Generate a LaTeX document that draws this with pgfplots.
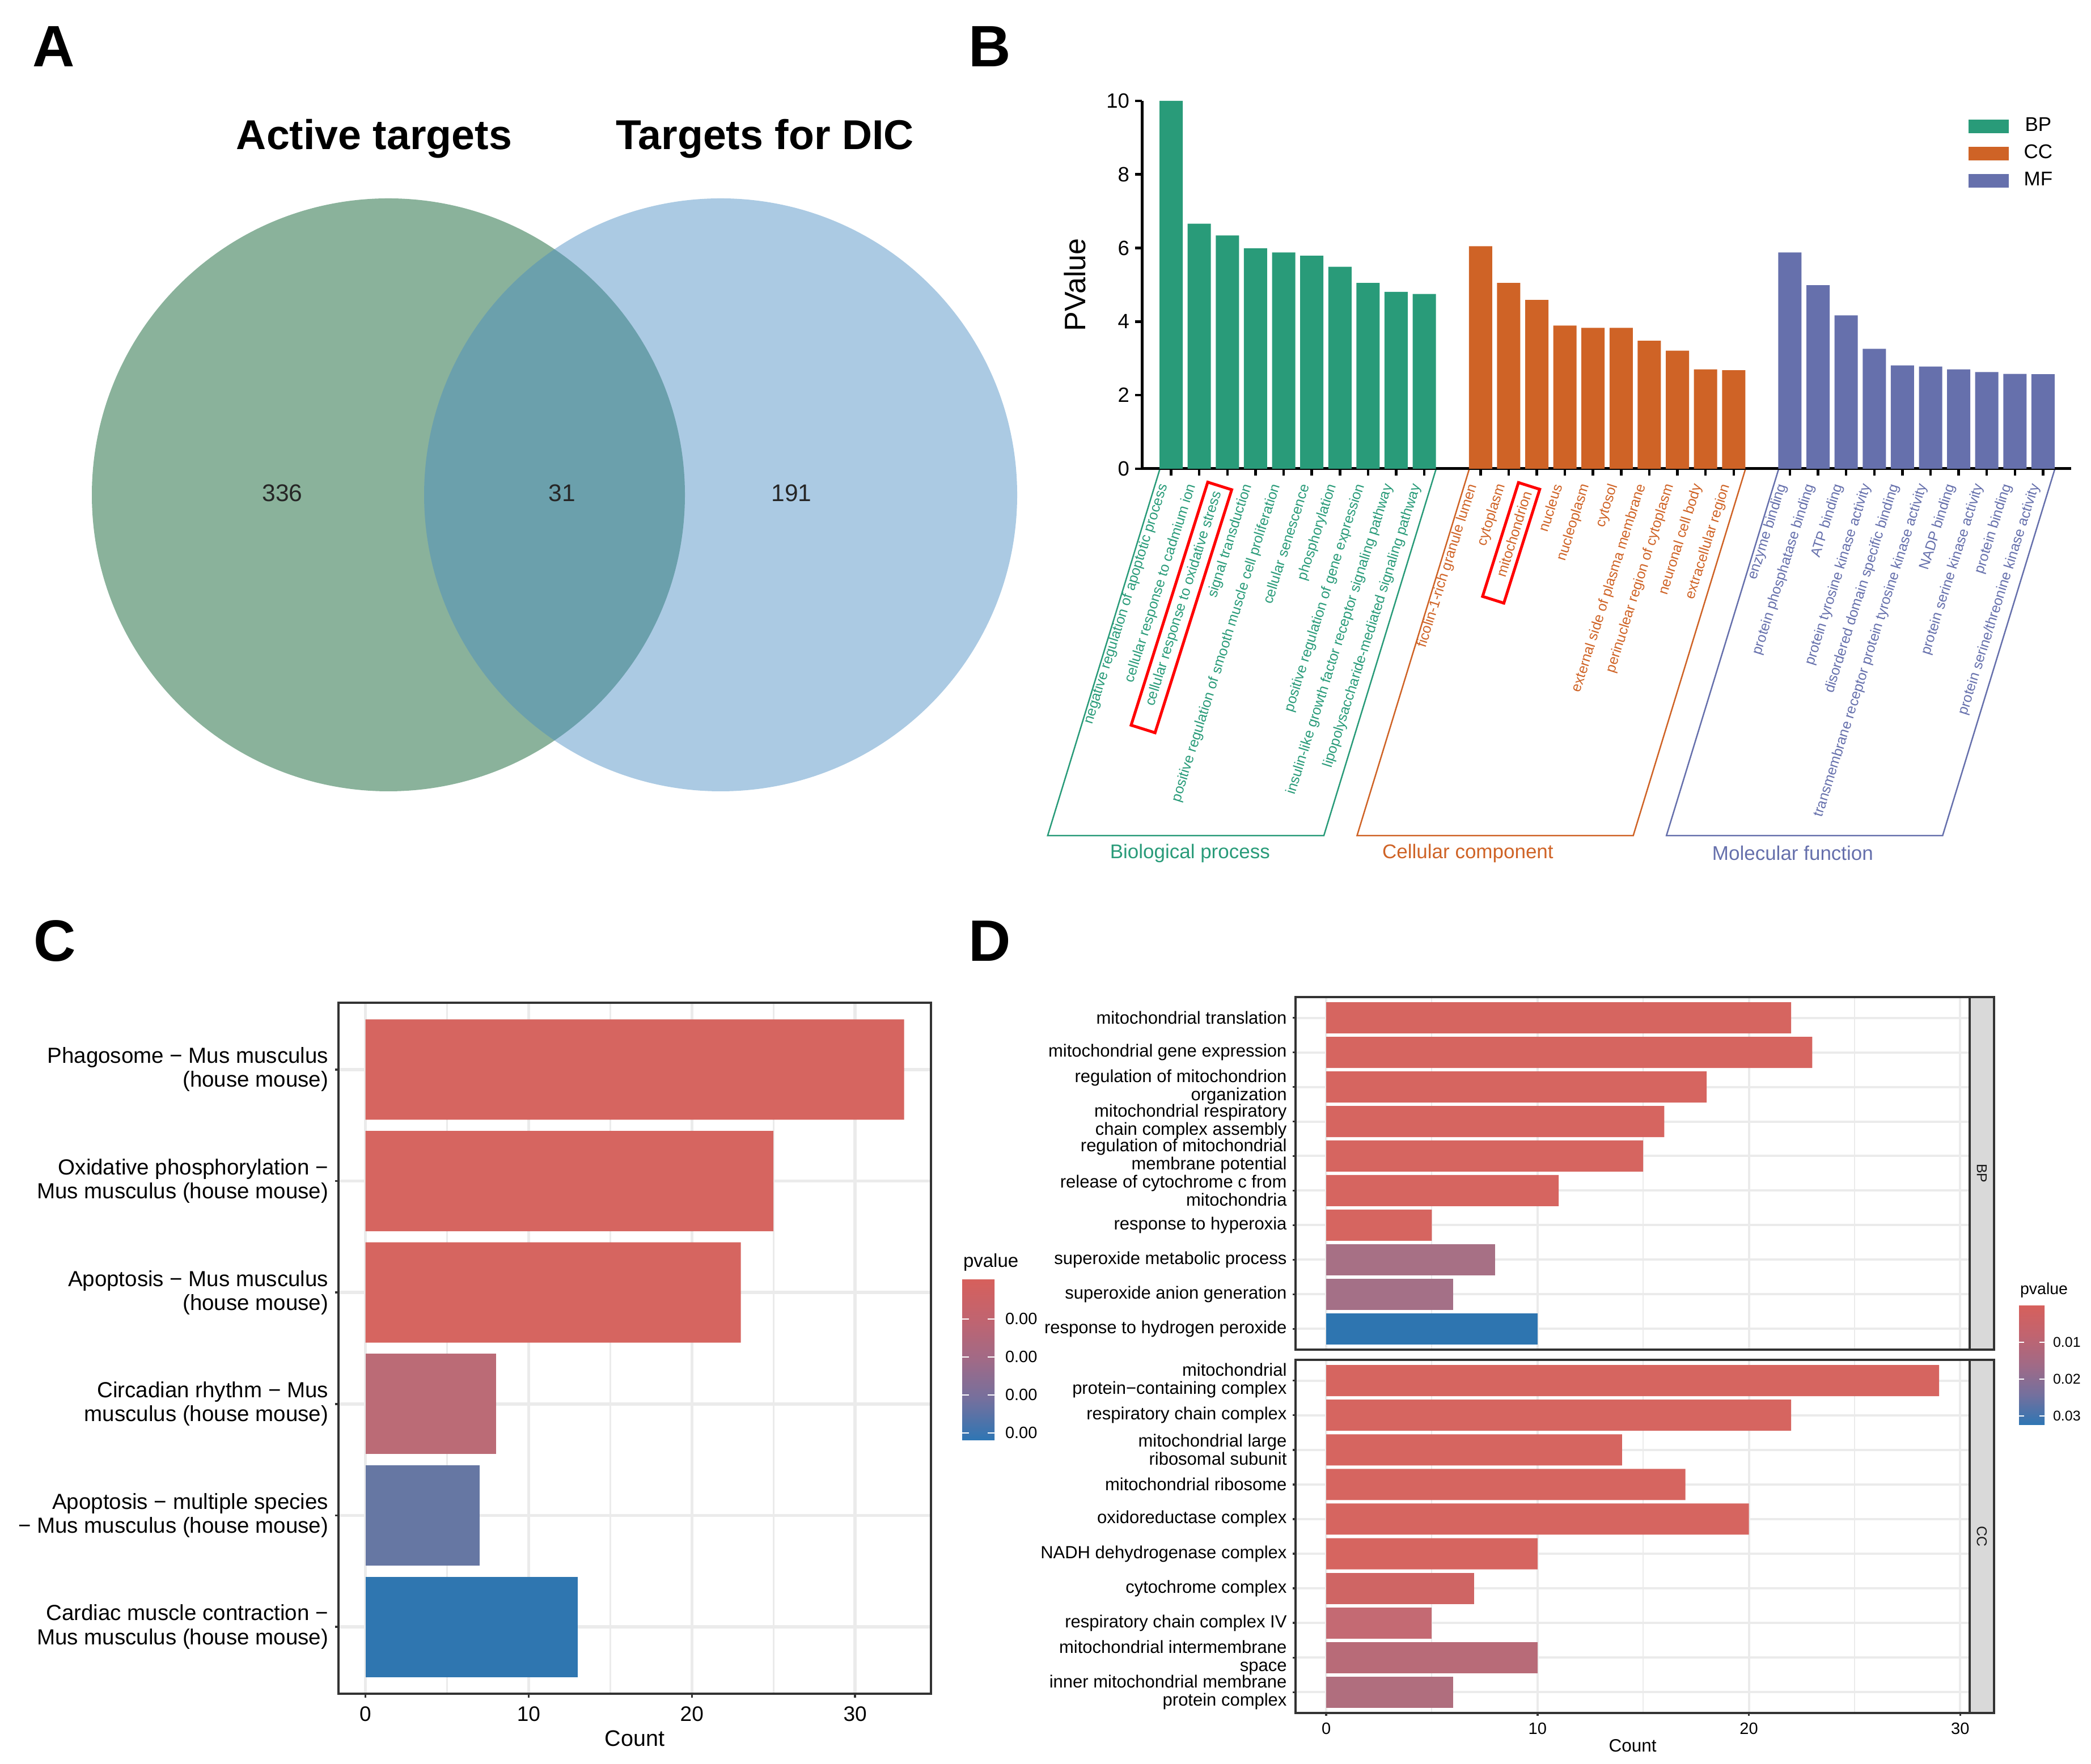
\documentclass[border=0pt]{standalone}
\usepackage{fontspec}
\setmainfont{Liberation Sans}
\usepackage{pgfplots}
\pgfplotsset{compat=1.18}
\pgfplotsset{/pgf/number format/assume math mode=true}

\definecolor{bpc}{RGB}{41,155,121}
\definecolor{ccc}{RGB}{207,99,38}
\definecolor{mfc}{RGB}{102,112,172}
\definecolor{vgreen}{RGB}{138,178,155}
\definecolor{vblueb}{RGB}{72,140,194}
\definecolor{gridc}{RGB}{235,235,235}
\definecolor{dgrey}{RGB}{51,51,51}
\definecolor{stripc}{RGB}{217,217,217}
\definecolor{r1}{RGB}{214,101,96}
\definecolor{c4}{RGB}{187,107,118}
\definecolor{c5}{RGB}{102,119,163}
\definecolor{c6}{RGB}{47,118,176}
\definecolor{bp8}{RGB}{167,112,133}
\definecolor{bp9}{RGB}{164,112,135}
\definecolor{bp10}{RGB}{46,117,176}
\definecolor{cc7}{RGB}{207,101,100}
\definecolor{cc8}{RGB}{196,106,115}
\definecolor{cc9}{RGB}{184,107,120}
\definecolor{cc10}{RGB}{176,110,126}
\definecolor{pr}{RGB}{214,96,92}
\definecolor{pq1}{RGB}{192,100,112}
\definecolor{pq2}{RGB}{160,106,135}
\definecolor{pq3}{RGB}{115,112,158}
\definecolor{pb}{RGB}{46,118,180}
\pgfdeclareverticalshading{pvshade}{100bp}{color(0bp)=(pb); color(25bp)=(pb); color(37.5bp)=(pq3); color(50bp)=(pq2); color(62.5bp)=(pq1); color(75bp)=(pr); color(100bp)=(pr)}

\newcommand{\bpl}[1]{\textcolor{bpc}{#1}}
\newcommand{\ccl}[1]{\textcolor{ccc}{#1}}
\newcommand{\mfl}[1]{\textcolor{mfc}{#1}}
\newcommand{\redbox}[2]{{\color{red}\setlength{\fboxsep}{1.6pt}\setlength{\fboxrule}{1pt}\fbox{\hspace{6.5pt}\textcolor{#1}{#2}}}}

\begin{document}
\begin{tikzpicture}
\path[use as bounding box] (0pt,0pt) rectangle (737.6pt,622.4pt);

% ---------- panel letters
\node[anchor=base west, inner sep=0pt, font=\fontsize{20.6pt}{24pt}\selectfont\bfseries] at (11.2pt,598.8pt) {A};
\node[anchor=base west, inner sep=0pt, font=\fontsize{20.6pt}{24pt}\selectfont\bfseries] at (341.4pt,598.8pt) {B};
\node[anchor=base west, inner sep=0pt, font=\fontsize{20.6pt}{24pt}\selectfont\bfseries] at (11.8pt,283.2pt) {C};
\node[anchor=base west, inner sep=0pt, font=\fontsize{20.6pt}{24pt}\selectfont\bfseries] at (341.4pt,283.2pt) {D};

% ---------- panel A: Venn
\begin{axis}[at={(0pt,622.4pt)}, anchor=north west, scale only axis,
  width=368pt, height=290pt, xmin=0, xmax=1840, ymin=0, ymax=1450,
  y dir=reverse, hide axis, clip=false]
\addplot[only marks, mark=*, mark size=104.6pt, color=vgreen,
  mark options={draw opacity=0, fill=vgreen, line width=0pt}] coordinates {(685,873)};
\addplot[only marks, mark=*, mark size=104.6pt, color=vblueb,
  mark options={draw opacity=0, fill=vblueb, fill opacity=0.46, line width=0pt}] coordinates {(1271,873)};
\coordinate (vt1) at (axis cs:660,264);
\coordinate (vt2) at (axis cs:1349,264);
\coordinate (vn1) at (axis cs:498,870);
\coordinate (vn2) at (axis cs:991,870);
\coordinate (vn3) at (axis cs:1396,870);
\end{axis}
\node[anchor=base, font=\fontsize{14.7pt}{17pt}\selectfont\bfseries] at (vt1) {Active targets};
\node[anchor=base, font=\fontsize{14.7pt}{17pt}\selectfont\bfseries] at (vt2) {Targets for DIC};
\node[font=\fontsize{8.5pt}{10pt}\selectfont, text=black!85] at (vn1) {336};
\node[font=\fontsize{8.5pt}{10pt}\selectfont, text=black!85] at (vn2) {31};
\node[font=\fontsize{8.5pt}{10pt}\selectfont, text=black!85] at (vn3) {191};

% ---------- panel B: GO bars
\begin{axis}[at={(402.8pt,457pt)}, anchor=south west, scale only axis,
  width=327.8pt, height=129.8pt,
  xmin=-1.04, xmax=32, ymin=0, ymax=10,
  axis x line=bottom, axis y line=left,
  axis line style={-, line width=1pt, black},
  ybar, bar width=8.2pt, bar shift=0pt, clip=false,
  tick align=outside, major tick length=2.4pt,
  tick style={line width=0.9pt, black},
  ytick={0,2,4,6,8,10},
  yticklabel style={font=\fontsize{7.3pt}{8pt}\selectfont, inner sep=0pt, xshift=-1.8pt},
  xtick={0,1,2,3,4,5,6,7,8,9,11,12,13,14,15,16,17,18,19,20,22,23,24,25,26,27,28,29,30,31},
  xticklabels={\bpl{negative regulation of apoptotic process},
    \bpl{cellular response to cadmium ion},
    \redbox{bpc}{cellular response to oxidative stress},
    \bpl{signal transduction},
    \bpl{positive regulation of smooth muscle cell proliferation},
    \bpl{cellular senescence},
    \bpl{phosphorylation},
    \bpl{positive regulation of gene expression},
    \bpl{insulin-like growth factor receptor signaling pathway},
    \bpl{lipopolysaccharide-mediated signaling pathway},
    \ccl{ficolin-1-rich granule lumen},
    \ccl{cytoplasm},
    \redbox{ccc}{mitochondrion},
    \ccl{nucleus},
    \ccl{nucleoplasm},
    \ccl{cytosol},
    \ccl{external side of plasma membrane},
    \ccl{perinuclear region of cytoplasm},
    \ccl{neuronal cell body},
    \ccl{extracellular region},
    \mfl{enzyme binding},
    \mfl{protein phosphatase binding},
    \mfl{ATP binding},
    \mfl{protein tyrosine kinase activity},
    \mfl{disordered domain specific binding},
    \mfl{transmembrane receptor protein tyrosine kinase activity},
    \mfl{NADP binding},
    \mfl{protein serine kinase activity},
    \mfl{protein binding},
    \mfl{protein serine/threonine kinase activity}},
  xticklabel style={font=\fontsize{5pt}{6pt}\selectfont, inner sep=0pt, xshift=-2.5pt, yshift=-3pt, rotate=72.5, anchor=east},
  ylabel={PValue},
  ylabel style={font=\fontsize{10.4pt}{12pt}\selectfont, at={(axis description cs:-0.072,0.5)}, anchor=center},
  legend style={at={(0.889,0.972)}, anchor=north west, draw=none, fill=none, inner sep=0pt,
    row sep=-0.7pt, font=\fontsize{7pt}{8pt}\selectfont},
]
\addplot[fill=bpc, draw=none, legend image code/.code={\fill[bpc] (0pt,-2.4pt) rectangle (14.2pt,2.4pt); \path (17.5pt,0pt);}]
  coordinates {(0,10.0) (1,6.66) (2,6.34) (3,5.99) (4,5.88) (5,5.79) (6,5.49) (7,5.05) (8,4.81) (9,4.75)};
\addplot[fill=ccc, draw=none, legend image code/.code={\fill[ccc] (0pt,-2.4pt) rectangle (14.2pt,2.4pt); \path (17.5pt,0pt);}]
  coordinates {(11,6.05) (12,5.05) (13,4.59) (14,3.89) (15,3.83) (16,3.83) (17,3.48) (18,3.21) (19,2.70) (20,2.68)};
\addplot[fill=mfc, draw=none, legend image code/.code={\fill[mfc] (0pt,-2.4pt) rectangle (14.2pt,2.4pt); \path (17.5pt,0pt);}]
  coordinates {(22,5.88) (23,4.99) (24,4.17) (25,3.26) (26,2.81) (27,2.78) (28,2.70) (29,2.63) (30,2.58) (31,2.57)};
\legend{BP,CC,MF}
\addplot[sharp plot, forget plot, bpc, line width=0.5pt, mark=none] coordinates {(-0.41,-0.03) (-4.39,-9.97) (5.43,-9.97) (9.41,-0.03)};
\addplot[sharp plot, forget plot, ccc, line width=0.5pt, mark=none] coordinates {(10.59,-0.03) (6.61,-9.97) (16.43,-9.97) (20.41,-0.03)};
\addplot[sharp plot, forget plot, mfc, line width=0.5pt, mark=none] coordinates {(21.59,-0.03) (17.61,-9.97) (27.43,-9.97) (31.41,-0.03)};
\node[text=bpc, font=\fontsize{7pt}{8pt}\selectfont] at (axis cs:0.67,-10.45) {Biological process};
\node[text=ccc, font=\fontsize{7pt}{8pt}\selectfont] at (axis cs:10.55,-10.45) {Cellular component};
\node[text=mfc, font=\fontsize{7pt}{8pt}\selectfont] at (axis cs:22.1,-10.45) {Molecular function};
\end{axis}

% ---------- panel C: KEGG
\begin{axis}[at={(119.4pt,24.8pt)}, anchor=south west, scale only axis,
  width=209pt, height=243.8pt,
  xmin=-1.65, xmax=34.65, ymin=0.4, ymax=6.6, y dir=reverse,
  xbar, bar width=35.4pt, bar shift=0pt,
  axis line style={line width=0.8pt, dgrey},
  xtick={0,10,20,30}, minor xtick={5,15,25}, ytick={1,2,3,4,5,6},
  xmajorgrids, xminorgrids, ymajorgrids,
  major grid style={gridc, line width=1.1pt}, minor grid style={gridc, line width=0.55pt},
  tick pos=left, tick align=outside, major tick length=1.3pt, minor tick length=0pt,
  tick style={line width=0.7pt, dgrey},
  yticklabels={{Phagosome − Mus musculus\\(house mouse)},
    {Oxidative phosphorylation −\\Mus musculus (house mouse)},
    {Apoptosis − Mus musculus\\(house mouse)},
    {Circadian rhythm − Mus\\musculus (house mouse)},
    {Apoptosis − multiple species\\− Mus musculus (house mouse)},
    {Cardiac muscle contraction −\\Mus musculus (house mouse)}},
  yticklabel style={align=right, font=\fontsize{7.7pt}{8.4pt}\selectfont, inner sep=0pt, xshift=-2.1pt},
  xticklabel style={font=\fontsize{7.4pt}{8.4pt}\selectfont, inner sep=0pt, yshift=-3pt},
  xlabel={Count},
  xlabel style={font=\fontsize{7.9pt}{9pt}\selectfont, at={(axis description cs:0.5,0)}, anchor=center, yshift=-15.8pt},
]
\addplot[fill=r1, draw=none] coordinates {(33,1) (25,2) (23,3)};
\addplot[fill=c4, draw=none] coordinates {(8,4)};
\addplot[fill=c5, draw=none] coordinates {(7,5)};
\addplot[fill=c6, draw=none] coordinates {(13,6)};
\end{axis}

% legend C
\node[anchor=base west, inner sep=0pt, font=\fontsize{6.6pt}{8pt}\selectfont] at (339.6pt,175.2pt) {pvalue};
\shade[shading=pvshade] (339.4pt,114.2pt) rectangle (350.8pt,170.8pt);
\foreach \yy/\lab in {157/0.00,143.6/0.00,130.2/0.00,116.8/0.00}{
  \draw[white, line width=0.5pt] (339.4pt,\yy pt) -- (341.8pt,\yy pt);
  \draw[white, line width=0.5pt] (348.4pt,\yy pt) -- (350.8pt,\yy pt);
  \node[anchor=west, inner sep=0pt, font=\fontsize{5.8pt}{7pt}\selectfont] at (354.4pt,\yy pt) {\lab};
}

% ---------- panel D: GO BP facet
\begin{axis}[name=dbp, at={(457pt,146.2pt)}, anchor=south west, scale only axis,
  width=237.8pt, height=124.4pt,
  xmin=-1.45, xmax=30.45, ymin=0.4, ymax=10.6, y dir=reverse,
  xbar, bar width=11pt, bar shift=0pt,
  axis line style={line width=0.8pt, dgrey},
  xtick={0,10,20,30}, minor xtick={5,15,25}, ytick={1,2,3,4,5,6,7,8,9,10},
  xmajorgrids, xminorgrids, ymajorgrids,
  major grid style={gridc, line width=0.8pt}, minor grid style={gridc, line width=0.4pt},
  tick pos=left, tick align=outside, major tick length=1pt, minor tick length=0pt,
  ytick style={line width=0.7pt, dgrey}, xtick style={draw=none},
  xticklabels={},
  yticklabels={{mitochondrial translation},
    {mitochondrial gene expression},
    {regulation of mitochondrion\\organization},
    {mitochondrial respiratory\\chain complex assembly},
    {regulation of mitochondrial\\membrane potential},
    {release of cytochrome c from\\mitochondria},
    {response to hyperoxia},
    {superoxide metabolic process},
    {superoxide anion generation},
    {response to hydrogen peroxide}},
  yticklabel style={align=right, font=\fontsize{6.2pt}{6.4pt}\selectfont, inner sep=0pt, xshift=-1.9pt},
]
\addplot[fill=r1, draw=none] coordinates {(22,1) (23,2) (18,3) (16,4) (15,5) (11,6) (5,7)};
\addplot[fill=bp8, draw=none] coordinates {(8,8)};
\addplot[fill=bp9, draw=none] coordinates {(6,9)};
\addplot[fill=bp10, draw=none] coordinates {(10,10)};
\end{axis}
\draw[fill=stripc, draw=dgrey, line width=0.8pt] (dbp.south east) rectangle ([xshift=8.6pt]dbp.north east);
\node[rotate=-90, inner sep=0pt, font=\fontsize{5pt}{6pt}\selectfont, text=black!90] at ([xshift=4.3pt]dbp.east) {BP};

% ---------- panel D: GO CC facet
\begin{axis}[name=dcc, at={(457pt,18pt)}, anchor=south west, scale only axis,
  width=237.8pt, height=124.6pt,
  xmin=-1.45, xmax=30.45, ymin=0.4, ymax=10.6, y dir=reverse,
  xbar, bar width=11pt, bar shift=0pt,
  axis line style={line width=0.8pt, dgrey},
  xtick={0,10,20,30}, minor xtick={5,15,25}, ytick={1,2,3,4,5,6,7,8,9,10},
  xmajorgrids, xminorgrids, ymajorgrids,
  major grid style={gridc, line width=0.8pt}, minor grid style={gridc, line width=0.4pt},
  tick pos=left, tick align=outside, major tick length=1pt, minor tick length=0pt,
  tick style={line width=0.7pt, dgrey},
  yticklabels={{mitochondrial\\protein−containing complex},
    {respiratory chain complex},
    {mitochondrial large\\ribosomal subunit},
    {mitochondrial ribosome},
    {oxidoreductase complex},
    {NADH dehydrogenase complex},
    {cytochrome complex},
    {respiratory chain complex IV},
    {mitochondrial intermembrane\\space},
    {inner mitochondrial membrane\\protein complex}},
  yticklabel style={align=right, font=\fontsize{6.2pt}{6.4pt}\selectfont, inner sep=0pt, xshift=-1.9pt},
  xticklabel style={font=\fontsize{5.8pt}{7pt}\selectfont, inner sep=0pt, yshift=-2.2pt},
  xlabel={Count},
  xlabel style={font=\fontsize{6.3pt}{7pt}\selectfont, at={(axis description cs:0.5,0)}, anchor=center, yshift=-11.6pt},
]
\addplot[fill=r1, draw=none] coordinates {(29,1) (22,2) (14,3) (17,4) (20,5) (10,6)};
\addplot[fill=cc7, draw=none] coordinates {(7,7)};
\addplot[fill=cc8, draw=none] coordinates {(5,8)};
\addplot[fill=cc9, draw=none] coordinates {(10,9)};
\addplot[fill=cc10, draw=none] coordinates {(6,10)};
\end{axis}
\draw[fill=stripc, draw=dgrey, line width=0.8pt] (dcc.south east) rectangle ([xshift=8.6pt]dcc.north east);
\node[rotate=-90, inner sep=0pt, font=\fontsize{5pt}{6pt}\selectfont, text=black!90] at ([xshift=4.3pt]dcc.east) {CC};

% legend D
\node[anchor=base west, inner sep=0pt, font=\fontsize{5.7pt}{7pt}\selectfont] at (712.4pt,165.6pt) {pvalue};
\shade[shading=pvshade] (712.2pt,119.6pt) rectangle (721.2pt,161.6pt);
\foreach \yy/\lab in {148.8/0.01,135.8/0.02,122.8/0.03}{
  \draw[white, line width=0.5pt] (712.2pt,\yy pt) -- (714pt,\yy pt);
  \draw[white, line width=0.5pt] (719.4pt,\yy pt) -- (721.2pt,\yy pt);
  \node[anchor=west, inner sep=0pt, font=\fontsize{5pt}{6pt}\selectfont] at (724pt,\yy pt) {\lab};
}
\end{tikzpicture}
\end{document}
